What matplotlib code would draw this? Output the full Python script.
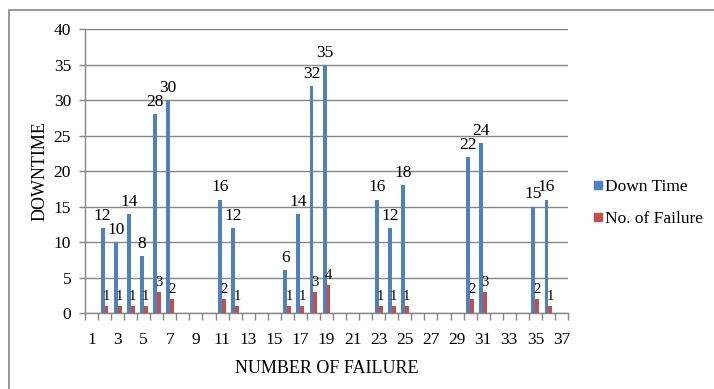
import matplotlib
matplotlib.use("Agg")
import matplotlib.pyplot as plt
from matplotlib.lines import Line2D
from matplotlib.patches import Rectangle
import numpy as np

plt.rcParams['font.family'] = ['Liberation Serif', 'DejaVu Serif']

# Data
categories = list(range(1, 38))
bar_cats = [2, 3, 4, 5, 6, 7, 11, 12, 16, 17, 18, 19, 23, 24, 25, 30, 31, 35, 36]
down_time = [12, 10, 14, 8, 28, 30, 16, 12, 6, 14, 32, 35, 16, 12, 18, 22, 24, 15, 16]
no_failure = [1, 1, 1, 1, 3, 2, 2, 1, 1, 1, 3, 4, 1, 1, 1, 2, 3, 2, 1]
x_tick_labels = [str(c) for c in categories if c % 2 == 1]
y_ticks = [0, 5, 10, 15, 20, 25, 30, 35, 40]

blue = '#4F81BD'
red = '#C0504D'
grey = '#868686'

W, H = 714, 389
fig = plt.figure(figsize=(W / 100, H / 100), dpi=100)
ax = fig.add_axes([85 / W, 1 - 313 / H, (568 - 85) / W, (313 - 29.3) / H])

x = np.array(bar_cats, dtype=float)
bw = 0.3
ax.bar(x - bw / 2, down_time, width=bw, color=blue, zorder=3)
ax.bar(x + bw / 2, no_failure, width=bw, color=red, zorder=3)

for xi, v in zip(x, down_time):
    ax.annotate(str(v), (xi - bw / 2, v), xytext=(0, 3), textcoords='offset points',
                ha='center', va='bottom', fontsize=12.5, zorder=4)
for xi, v in zip(x, no_failure):
    ax.annotate(str(v), (xi + bw / 2, v), xytext=(0, 2), textcoords='offset points',
                ha='center', va='bottom', fontsize=10.5, zorder=4)

ax.set_xlim(0.5, 37.5)
ax.set_ylim(0, 40)
ax.set_yticks(y_ticks)
ax.set_yticklabels([str(t) for t in y_ticks], fontsize=12.5)
ax.set_xticks([c for c in categories if c % 2 == 1])
ax.set_xticklabels(x_tick_labels, fontsize=12.5)
ax.set_xticks(np.arange(0.5, 38.0, 1.0), minor=True)
ax.tick_params(axis='x', which='major', length=0, pad=14)
ax.tick_params(axis='x', which='minor', length=5, color=grey, width=1)
ax.tick_params(axis='y', which='major', length=4, color=grey, width=1, pad=6)

ax.grid(axis='y', color=grey, linewidth=1, zorder=0)
ax.set_axisbelow(True)
for s in ['top', 'right']:
    ax.spines[s].set_visible(False)
for s in ['left', 'bottom']:
    ax.spines[s].set_color(grey)
    ax.spines[s].set_linewidth(1)

ax.set_ylabel('DOWNTIME', fontsize=13, labelpad=4)
ax.set_xlabel('NUMBER OF FAILURE', fontsize=13, labelpad=8)

handles = [Line2D([], [], marker='s', linestyle='none', markersize=5.5, color=blue),
           Line2D([], [], marker='s', linestyle='none', markersize=5.5, color=red)]
fig.legend(handles, ['Down Time', 'No. of Failure'], loc='center left',
           bbox_to_anchor=(594 / W, 1 - 203 / H), frameon=False, fontsize=12.5,
           handlelength=0.5, handletextpad=0.15, labelspacing=0.9, borderpad=0,
           borderaxespad=0)

fig.add_artist(Rectangle((9 / W, -0.1), 1.0, 1 - 10 / H + 0.1, transform=fig.transFigure,
                         fill=False, edgecolor=grey, linewidth=1.2))

fig.savefig('out.png', dpi=100)
